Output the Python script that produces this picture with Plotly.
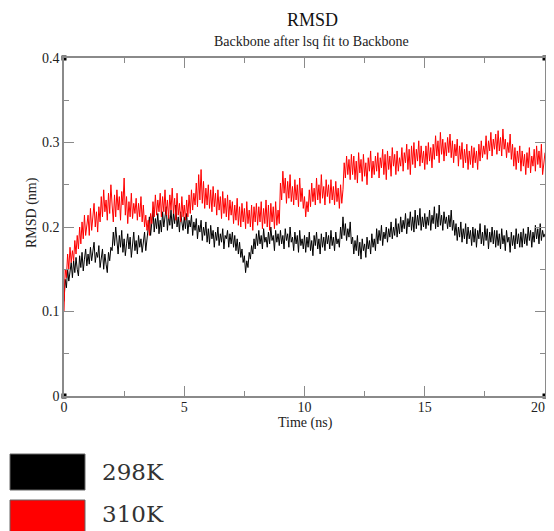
import plotly.graph_objects as go

time_ns = [round(i * 0.05, 2) for i in range(401)]

rmsd_298K = [
    0.112, 0.138, 0.128, 0.150, 0.136, 0.148, 0.158, 0.140, 0.160, 0.146, 0.164, 0.150, 0.142, 0.166, 0.152, 0.170, 0.148, 0.162, 0.174, 0.154,
    0.168, 0.156, 0.176, 0.160, 0.172, 0.182, 0.158, 0.170, 0.164, 0.178, 0.152, 0.166, 0.174, 0.150, 0.168, 0.156, 0.146, 0.170, 0.160, 0.176,
    0.172, 0.194, 0.178, 0.200, 0.184, 0.168, 0.190, 0.176, 0.196, 0.170, 0.186, 0.166, 0.180, 0.192, 0.174, 0.188, 0.164, 0.182, 0.194, 0.172,
    0.184, 0.168, 0.190, 0.176, 0.186, 0.170, 0.180, 0.194, 0.172, 0.188, 0.196, 0.212, 0.190, 0.206, 0.220, 0.194, 0.210, 0.198, 0.216, 0.192,
    0.208, 0.194, 0.218, 0.200, 0.212, 0.224, 0.196, 0.214, 0.202, 0.220, 0.198, 0.216, 0.204, 0.226, 0.200, 0.212, 0.194, 0.218, 0.206, 0.196,
    0.212, 0.198, 0.216, 0.192, 0.208, 0.200, 0.214, 0.190, 0.206, 0.196, 0.210, 0.186, 0.202, 0.194, 0.208, 0.184, 0.200, 0.190, 0.206, 0.182,
    0.198, 0.180, 0.202, 0.186, 0.196, 0.176, 0.194, 0.184, 0.200, 0.178, 0.192, 0.182, 0.198, 0.174, 0.190, 0.186, 0.196, 0.176, 0.192, 0.180,
    0.194, 0.176, 0.190, 0.172, 0.186, 0.168, 0.182, 0.164, 0.174, 0.158, 0.166, 0.146, 0.160, 0.152, 0.170, 0.162, 0.178, 0.168, 0.186, 0.174,
    0.192, 0.178, 0.196, 0.180, 0.190, 0.174, 0.198, 0.182, 0.188, 0.176, 0.194, 0.180, 0.200, 0.184, 0.190, 0.172, 0.196, 0.182, 0.192, 0.178,
    0.196, 0.180, 0.190, 0.174, 0.198, 0.184, 0.192, 0.176, 0.200, 0.182, 0.188, 0.172, 0.194, 0.180, 0.190, 0.170, 0.196, 0.178, 0.186, 0.174,
    0.190, 0.170, 0.188, 0.176, 0.194, 0.172, 0.184, 0.166, 0.190, 0.178, 0.194, 0.174, 0.186, 0.168, 0.192, 0.176, 0.188, 0.172, 0.194, 0.180,
    0.190, 0.174, 0.196, 0.178, 0.188, 0.172, 0.194, 0.180, 0.186, 0.176, 0.200, 0.186, 0.212, 0.190, 0.204, 0.184, 0.198, 0.188, 0.206, 0.180,
    0.188, 0.168, 0.184, 0.172, 0.190, 0.166, 0.182, 0.162, 0.186, 0.172, 0.180, 0.164, 0.188, 0.174, 0.184, 0.168, 0.192, 0.176, 0.186, 0.172,
    0.198, 0.180, 0.196, 0.184, 0.202, 0.178, 0.194, 0.186, 0.200, 0.182, 0.198, 0.188, 0.206, 0.186, 0.200, 0.190, 0.210, 0.188, 0.204, 0.192,
    0.212, 0.194, 0.208, 0.198, 0.216, 0.192, 0.210, 0.200, 0.218, 0.196, 0.212, 0.194, 0.220, 0.198, 0.214, 0.202, 0.222, 0.196, 0.212, 0.200,
    0.216, 0.198, 0.212, 0.202, 0.220, 0.196, 0.214, 0.204, 0.224, 0.198, 0.216, 0.200, 0.226, 0.202, 0.214, 0.196, 0.218, 0.204, 0.212, 0.198,
    0.214, 0.200, 0.220, 0.196, 0.208, 0.190, 0.204, 0.184, 0.200, 0.188, 0.206, 0.182, 0.198, 0.186, 0.204, 0.180, 0.200, 0.186, 0.196, 0.178,
    0.200, 0.182, 0.198, 0.176, 0.196, 0.186, 0.204, 0.180, 0.194, 0.178, 0.202, 0.184, 0.198, 0.174, 0.194, 0.182, 0.200, 0.180, 0.196, 0.176,
    0.196, 0.178, 0.192, 0.174, 0.198, 0.180, 0.190, 0.172, 0.196, 0.182, 0.188, 0.170, 0.194, 0.178, 0.190, 0.174, 0.198, 0.180, 0.192, 0.176,
    0.194, 0.176, 0.198, 0.180, 0.192, 0.178, 0.200, 0.184, 0.196, 0.176, 0.194, 0.182, 0.202, 0.186, 0.198, 0.180, 0.204, 0.184, 0.196, 0.188,
    0.192,
]

rmsd_310K = [
    0.100, 0.150, 0.140, 0.168, 0.150, 0.176, 0.158, 0.172, 0.160, 0.184, 0.168, 0.190, 0.174, 0.200, 0.180, 0.206, 0.186, 0.214, 0.190, 0.204,
    0.214, 0.190, 0.222, 0.196, 0.210, 0.228, 0.200, 0.218, 0.194, 0.224, 0.206, 0.236, 0.212, 0.244, 0.218, 0.232, 0.208, 0.240, 0.216, 0.250,
    0.226, 0.206, 0.238, 0.212, 0.244, 0.220, 0.236, 0.208, 0.242, 0.226, 0.258, 0.214, 0.236, 0.204, 0.230, 0.212, 0.240, 0.210, 0.228, 0.216,
    0.234, 0.208, 0.228, 0.212, 0.236, 0.206, 0.226, 0.200, 0.214, 0.196, 0.208, 0.190, 0.216, 0.204, 0.230, 0.212, 0.238, 0.214, 0.232, 0.218,
    0.240, 0.212, 0.236, 0.218, 0.244, 0.214, 0.232, 0.210, 0.238, 0.220, 0.246, 0.216, 0.234, 0.208, 0.240, 0.214, 0.228, 0.206, 0.236, 0.212,
    0.226, 0.208, 0.232, 0.212, 0.238, 0.216, 0.244, 0.220, 0.240, 0.226, 0.252, 0.224, 0.262, 0.232, 0.268, 0.228, 0.254, 0.222, 0.246, 0.226,
    0.250, 0.222, 0.244, 0.218, 0.248, 0.224, 0.240, 0.214, 0.244, 0.220, 0.236, 0.210, 0.242, 0.216, 0.234, 0.212, 0.238, 0.208, 0.232, 0.214,
    0.230, 0.204, 0.226, 0.208, 0.234, 0.202, 0.224, 0.200, 0.228, 0.206, 0.222, 0.198, 0.230, 0.204, 0.220, 0.200, 0.226, 0.196, 0.224, 0.206,
    0.228, 0.202, 0.224, 0.206, 0.230, 0.198, 0.222, 0.204, 0.232, 0.200, 0.226, 0.196, 0.228, 0.206, 0.224, 0.198, 0.230, 0.202, 0.220, 0.204,
    0.252, 0.232, 0.266, 0.240, 0.258, 0.228, 0.254, 0.234, 0.262, 0.230, 0.248, 0.226, 0.256, 0.232, 0.250, 0.224, 0.258, 0.230, 0.246, 0.222,
    0.236, 0.212, 0.230, 0.218, 0.244, 0.224, 0.252, 0.230, 0.246, 0.226, 0.258, 0.232, 0.250, 0.228, 0.262, 0.234, 0.248, 0.226, 0.256, 0.236,
    0.250, 0.228, 0.256, 0.232, 0.248, 0.226, 0.254, 0.230, 0.246, 0.222, 0.250, 0.228, 0.244, 0.276, 0.258, 0.284, 0.262, 0.280, 0.256, 0.286,
    0.262, 0.284, 0.256, 0.278, 0.252, 0.288, 0.264, 0.280, 0.254, 0.286, 0.260, 0.276, 0.250, 0.282, 0.266, 0.290, 0.258, 0.278, 0.262, 0.284,
    0.266, 0.288, 0.258, 0.282, 0.270, 0.292, 0.262, 0.286, 0.256, 0.290, 0.268, 0.284, 0.260, 0.294, 0.272, 0.286, 0.262, 0.290, 0.266, 0.282,
    0.272, 0.294, 0.266, 0.288, 0.276, 0.298, 0.268, 0.292, 0.262, 0.296, 0.274, 0.300, 0.270, 0.292, 0.278, 0.302, 0.272, 0.296, 0.276, 0.290,
    0.268, 0.296, 0.274, 0.300, 0.278, 0.294, 0.270, 0.298, 0.280, 0.308, 0.284, 0.302, 0.276, 0.312, 0.286, 0.304, 0.278, 0.300, 0.284, 0.306,
    0.288, 0.310, 0.282, 0.302, 0.276, 0.298, 0.284, 0.304, 0.272, 0.296, 0.280, 0.300, 0.270, 0.292, 0.276, 0.298, 0.268, 0.290, 0.274, 0.296,
    0.270, 0.294, 0.276, 0.290, 0.268, 0.298, 0.278, 0.302, 0.282, 0.296, 0.286, 0.308, 0.280, 0.302, 0.290, 0.312, 0.284, 0.304, 0.292, 0.310,
    0.286, 0.314, 0.290, 0.306, 0.284, 0.316, 0.292, 0.304, 0.282, 0.300, 0.288, 0.310, 0.280, 0.298, 0.272, 0.294, 0.268, 0.290, 0.276, 0.296,
    0.266, 0.290, 0.272, 0.286, 0.262, 0.288, 0.270, 0.294, 0.264, 0.284, 0.272, 0.292, 0.266, 0.296, 0.274, 0.290, 0.270, 0.298, 0.262, 0.280,
    0.288,
]

series_names = ["298K", "310K"]
series_colors = ["#000000", "#ff0000"]

x_ticks = [0, 5, 10, 15, 20]
x_tick_labels = ["0", "5", "10", "15", ""]  # last label drawn as an annotation so it stays inside the page
last_x_label = "20"
y_ticks = [0, 0.1, 0.2, 0.3, 0.4]
corner_x = [0, 0, 20, 20]
corner_y = [0, 0.4, 0, 0.4]

title_text = "RMSD"
subtitle_text = "Backbone after lsq fit to Backbone"
x_title = "Time (ns)"
y_title = "RMSD (nm)"

SERIF = "Liberation Serif, Times New Roman, serif"
AXC = "#8a8a8a"

# page body has an 8px margin; plot area sits at page x 64..545, y 58..396
PW, PH = 481, 338

fig = go.Figure()
for name, color, vals in zip(series_names, series_colors, [rmsd_298K, rmsd_310K]):
    fig.add_trace(go.Scatter(x=time_ns, y=vals, mode="lines", name=name,
                             line=dict(color=color, width=1), showlegend=False))

fig.add_trace(go.Scatter(x=corner_x, y=corner_y, mode="markers",
                         marker=dict(symbol="square", size=5, color="black"),
                         cliponaxis=False, showlegend=False, hoverinfo="skip"))

axis_common = dict(
    showgrid=False, zeroline=False, showline=True, linecolor=AXC, linewidth=1.5,
    mirror="ticks", ticks="inside", ticklen=10, tickcolor=AXC, tickwidth=1,
    tickfont=dict(family=SERIF, size=14, color="#222"),
    automargin=False,
)

fig.update_xaxes(range=[0, 20], tickvals=x_ticks, ticktext=x_tick_labels,
                 ticklabelstandoff=-3,
                 minor=dict(ticks="inside", ticklen=5, dtick=2.5, tickcolor=AXC),
                 **axis_common)
fig.update_yaxes(range=[0, 0.4], tickvals=y_ticks,
                 minor=dict(ticks="inside", ticklen=5, dtick=0.05, tickcolor=AXC),
                 **axis_common)


def px_x(px):
    return (px - 64) / PW


def px_y(py):
    return (396 - py) / PH


annotations = [
    dict(text=title_text, x=px_x(312), y=px_y(20), xref="paper", yref="paper",
         xanchor="center", yanchor="middle",
         showarrow=False, font=dict(family=SERIF, size=18, color="#111")),
    dict(text=subtitle_text, x=px_x(311), y=px_y(41), xref="paper", yref="paper",
         xanchor="center", yanchor="middle",
         showarrow=False, font=dict(family=SERIF, size=14, color="#222")),
    dict(text=x_title, x=px_x(305), y=px_y(423), xref="paper", yref="paper",
         xanchor="center", yanchor="middle",
         showarrow=False, font=dict(family=SERIF, size=14, color="#222")),
    dict(text=y_title, x=px_x(32), y=px_y(213), xref="paper", yref="paper",
         xanchor="center", yanchor="middle", textangle=-90,
         showarrow=False, font=dict(family=SERIF, size=14, color="#222")),
    dict(text=last_x_label, x=x_ticks[-1], xref="x", y=px_y(407), yref="paper",
         xanchor="right", yanchor="middle", xshift=2,
         showarrow=False, font=dict(family=SERIF, size=14, color="#222")),
]

shapes = []
legend_rows = [(454, 490), (500, 545)]
text_centers = [472, 514]
for (top, bot), name, color, tc in zip(legend_rows, series_names, series_colors, text_centers):
    shapes.append(dict(type="rect", xref="paper", yref="paper",
                       x0=px_x(10), x1=px_x(85), y0=px_y(bot), y1=px_y(top),
                       fillcolor=color, line=dict(color="#666", width=1)))
    annotations.append(dict(text=name, xref="paper", yref="paper",
                            x=px_x(100), y=px_y(tc),
                            xanchor="left", yanchor="middle", showarrow=False,
                            font=dict(family="DejaVu Serif, serif", size=23, color="#333")))

fig.update_layout(
    width=546, height=523,
    margin=dict(l=56, r=9, t=50, b=135),
    paper_bgcolor="white", plot_bgcolor="white",
    annotations=annotations, shapes=shapes,
    showlegend=False,
)

fig.write_html("out.html")
